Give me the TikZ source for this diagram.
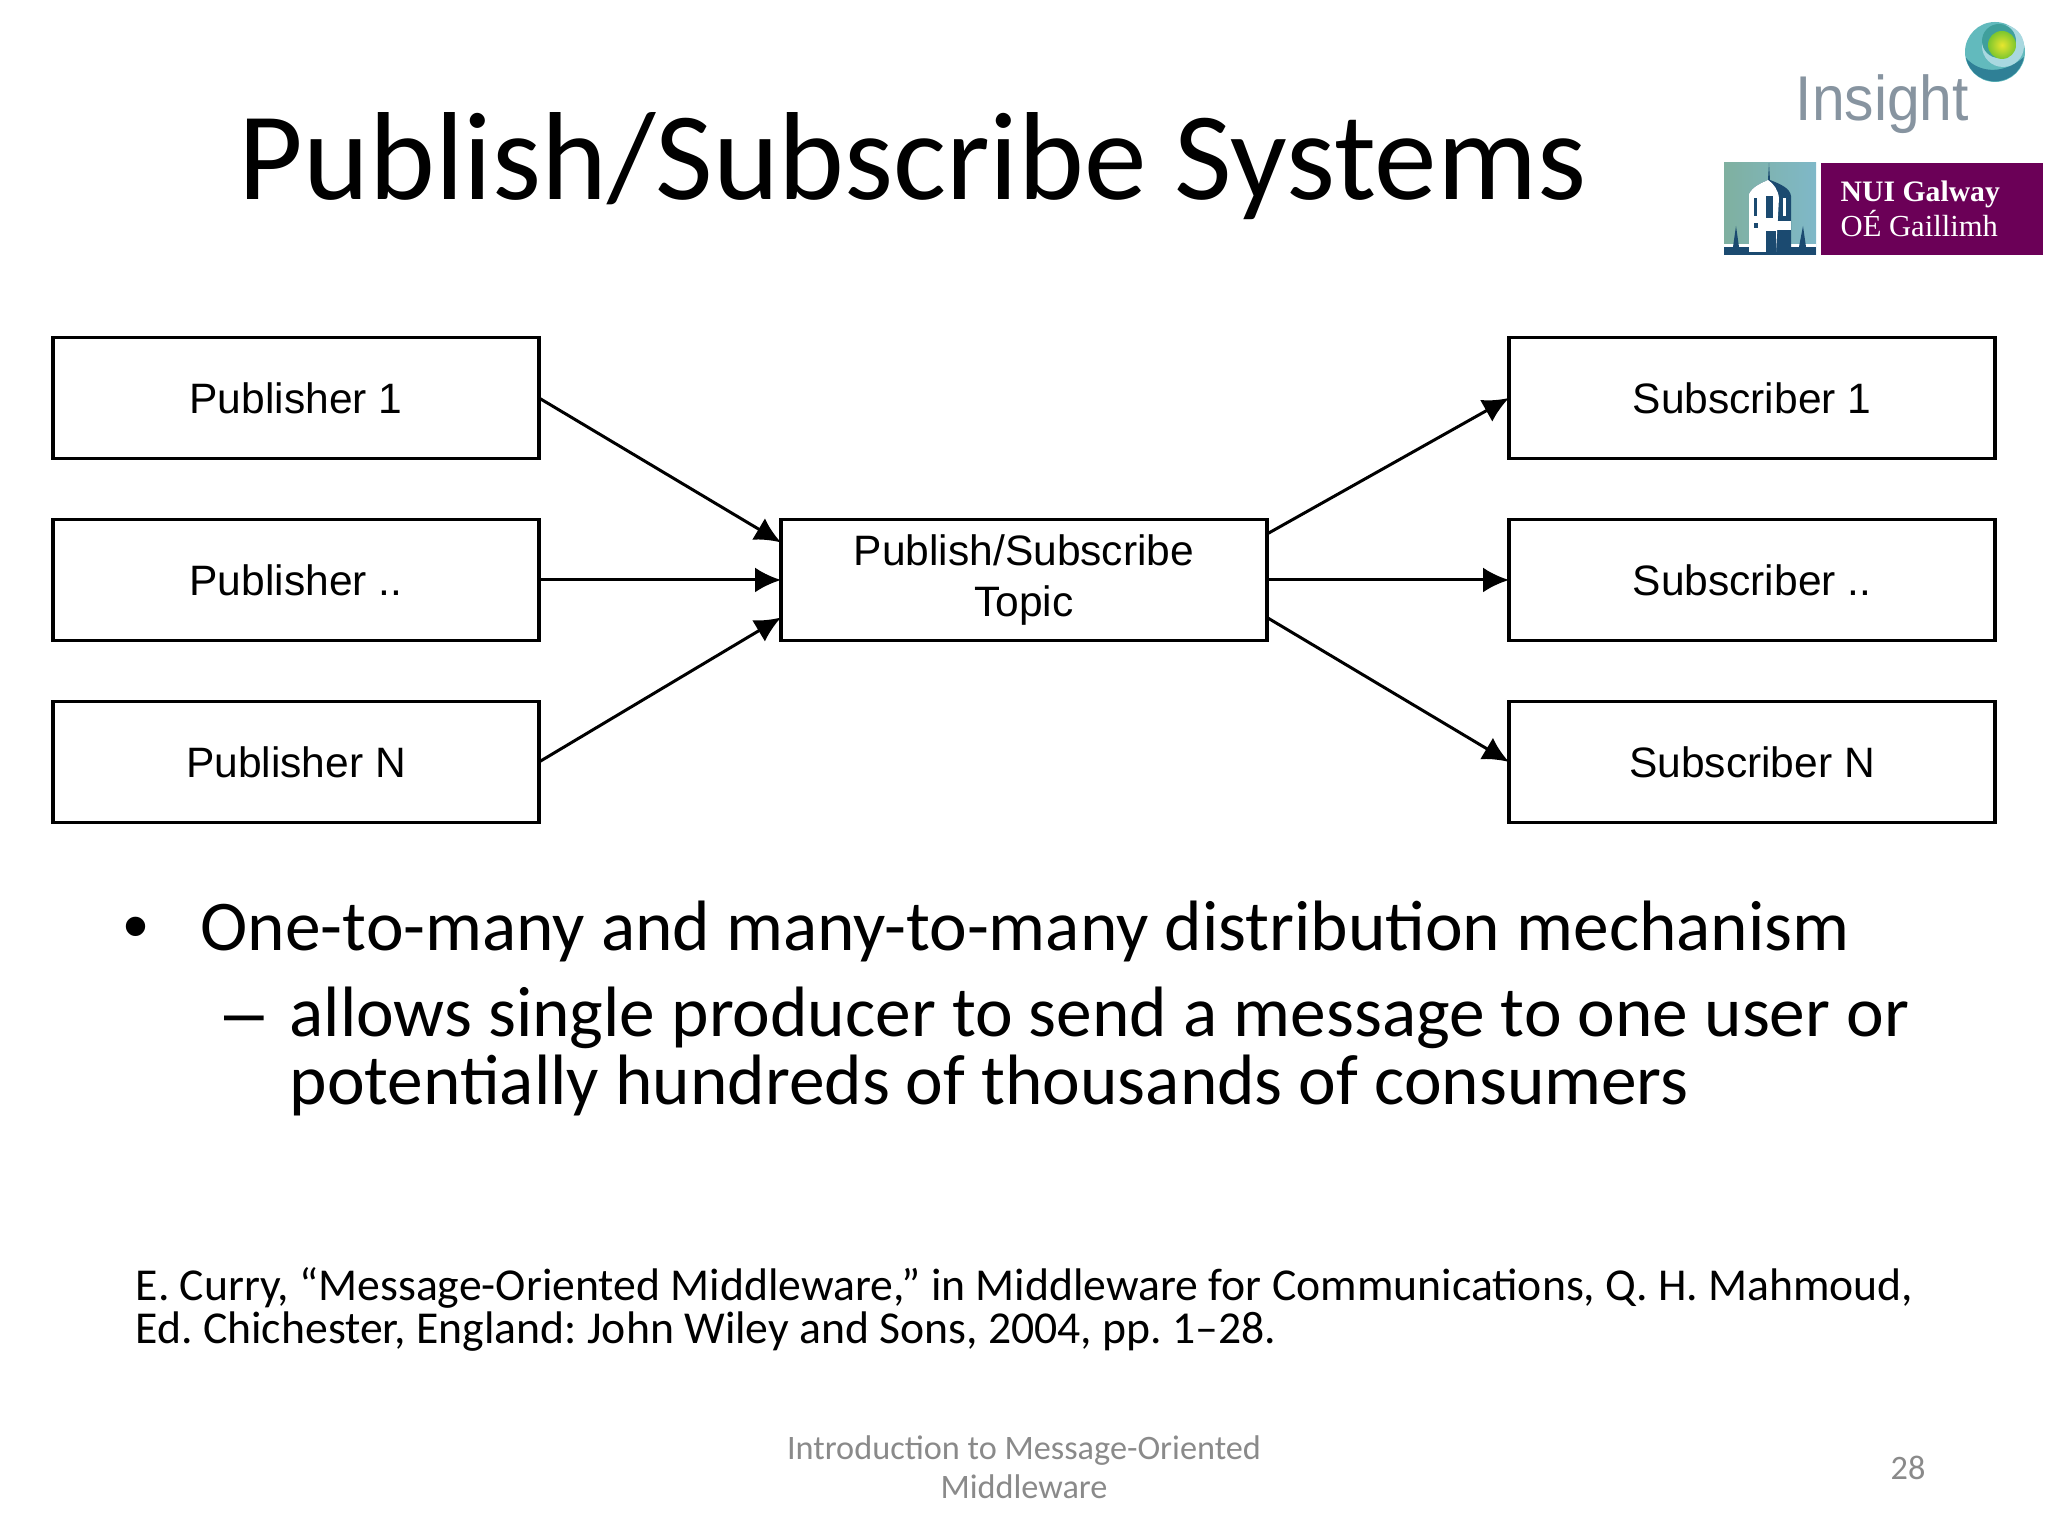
\documentclass[tikz,border=0pt]{standalone}
\usepackage{fontspec}
\setmainfont{Carlito}
\newfontfamily\boxfont{Liberation Sans}
\newfontfamily\logofont{Liberation Serif}
\usetikzlibrary{arrows.meta,calc,positioning}
\definecolor{insightgray}{HTML}{8794A0}
\definecolor{galwaypurple}{HTML}{6B0057}
\definecolor{towernavy}{HTML}{1B4A70}
\definecolor{footgray}{HTML}{8A8A8A}
\definecolor{globeteal}{HTML}{62BABD}
\definecolor{globedeep}{HTML}{2F8096}
\definecolor{globelight}{HTML}{A9D8E0}
\definecolor{globering}{HTML}{3F9F9C}
\definecolor{ballgreen}{HTML}{7CC62E}
\definecolor{ballyellow}{HTML}{E8E62E}
\definecolor{skyleft}{HTML}{7FB0A0}
\definecolor{skyright}{HTML}{7FB8C8}
\tikzstyle{block} = [rectangle, draw=black, line width=0.35mm, minimum width=4.86cm,
minimum height=1.21cm, inner sep=0pt, outer sep=0pt, align=center, font=\boxfont\fontsize{12.1}{14.7}\selectfont]
\tikzstyle{arrow} = [line width=0.3mm,-{Latex[length=2.6mm,width=2.5mm]}]
\tikzstyle{body} = [inner sep=0pt, anchor=base west, font=\fontsize{20.3}{24}\selectfont]
\tikzstyle{ref} = [inner sep=0pt, anchor=base west, font=\frenchspacing\fontsize{13}{16}\selectfont]
\tikzstyle{foot} = [inner sep=0pt, text=footgray, font=\fontsize{9.75}{12}\selectfont]
\tikzstyle{logotext} = [inner sep=0pt, anchor=base west, text=white]
\begin{document}
\begin{tikzpicture}
    \useasboundingbox (0,0) rectangle (20.48,15.36);
    % title
    \node[inner sep=0pt, anchor=base west, font=\fontsize{35.65}{40}\selectfont] (title) at (2.38,13.36) {Publish/Subscribe Systems};
    % insight logo
    \node[inner sep=0pt, anchor=base west, text=insightgray, xscale=0.93, font=\boxfont\fontsize{18}{20}\selectfont] (insight) at (17.95,14.15) {Insight};
    \fill[globeteal] (19.95,14.84) circle (0.30);
    \fill[globedeep] (19.66,14.78) arc (192:350:0.295) .. controls (20.05,14.62) and (19.80,14.62) .. (19.66,14.78);
    \fill[globelight] (20.03,14.90) circle (0.21);
    \fill[globering] (19.99,14.95) circle (0.17);
    \shade[inner color=ballyellow, outer color=ballgreen] (20.02,14.91) circle (0.14);
    % galway logo
    \fill[left color=skyleft, right color=skyright] (17.24,12.81) rectangle (18.16,13.73);
    \fill[towernavy] (17.24,12.81) rectangle (18.16,12.89);
    \fill[white] (17.24,12.89) rectangle (18.16,12.92);
    \fill[towernavy] (17.33,12.89) -- (17.36,13.10) -- (17.39,12.89) -- cycle;
    \fill[towernavy] (17.99,12.89) -- (18.03,13.10) -- (18.06,12.89) -- cycle;
    \fill[towernavy] (17.49,12.84) -- (17.49,13.42) .. controls (17.53,13.50) and (17.62,13.53) .. (17.68,13.56)
        -- (17.69,13.73) -- (17.70,13.56) .. controls (17.80,13.52) and (17.90,13.48) .. (17.91,13.40) -- (17.91,12.84) -- cycle;
    \fill[white] (17.49,12.84) -- (17.49,13.42) .. controls (17.53,13.50) and (17.62,13.53) .. (17.68,13.56)
        .. controls (17.74,13.52) and (17.78,13.46) .. (17.79,13.38) -- (17.76,12.84) -- cycle;
    \fill[white] (17.49,13.06) rectangle (17.91,13.15);
    \fill[towernavy] (17.54,13.20) rectangle (17.57,13.38);
    \fill[towernavy] (17.66,13.18) rectangle (17.73,13.40);
    \fill[white] (17.83,13.20) rectangle (17.86,13.38);
    \fill[towernavy] (17.54,13.08) rectangle (17.58,13.13);
    \fill[towernavy] (17.66,12.84) rectangle (17.76,13.05);
    \fill[galwaypurple] (18.21,12.81) rectangle (20.43,13.73);
    \node[logotext, font=\logofont\bfseries\fontsize{8.45}{9}\selectfont] (galway) at (18.40,13.34) {NUI Galway};
    \node[logotext, font=\logofont\fontsize{8.7}{9}\selectfont] (gaillimh) at (18.40,12.99) {OÉ Gaillimh};
    % publishers
    \node[block] (pub1) at (2.96,11.38) {Publisher 1};
    \node[block] (pubm) at (2.96,9.56) {Publisher ..};
    \node[block] (pubn) at (2.96,7.74) {Publisher N};
    % topic
    \node[block] (topic) at (10.24,9.56) {Publish/Subscribe\\Topic};
    % subscribers
    \node[block] (sub1) at (17.52,11.38) {Subscriber 1};
    \node[block] (subm) at (17.52,9.56) {Subscriber ..};
    \node[block] (subn) at (17.52,7.74) {Subscriber N};
    % arrows
    \draw[arrow] (pub1.east) -- ($(topic.north west)!0.19!(topic.south west)$);
    \draw[arrow] (pubm.east) -- (topic.west);
    \draw[arrow] (pubn.east) -- ($(topic.north west)!0.81!(topic.south west)$);
    \draw[arrow] ($(topic.north east)!0.12!(topic.south east)$) -- (sub1.west);
    \draw[arrow] (topic.east) -- (subm.west);
    \draw[arrow] ($(topic.north east)!0.81!(topic.south east)$) -- (subn.west);
    % bullets
    \node[body, font=\boxfont\fontsize{20.3}{24}\selectfont] (bullet) at (1.23,5.85) {•};
    \node[body] (line1) at (2.00,5.85) {One-to-many and many-to-many distribution mechanism};
    \node[body, font=\boxfont\fontsize{20.3}{24}\selectfont] (dash) at (2.24,4.99) {–};
    \node[body] (line2) at (2.89,4.99) {allows single producer to send a message to one user or};
    \node[body] (line3) at (2.89,4.31) {potentially hundreds of thousands of consumers};
    % reference
    \node[ref] (ref1) at (1.35,2.35) {E. Curry, “Message-Oriented Middleware,” in Middleware for Communications, Q. H. Mahmoud,};
    \node[ref] (ref2) at (1.35,1.92) {Ed. Chichester, England: John Wiley and Sons, 2004, pp. 1–28.};
    % footer
    \node[foot, anchor=base] (foot1) at (10.24,0.76) {Introduction to Message-Oriented};
    \node[foot, anchor=base] (foot2) at (10.24,0.37) {Middleware};
    \node[foot, anchor=base] (page) at (19.08,0.56) {28};
\end{tikzpicture}
\end{document}
